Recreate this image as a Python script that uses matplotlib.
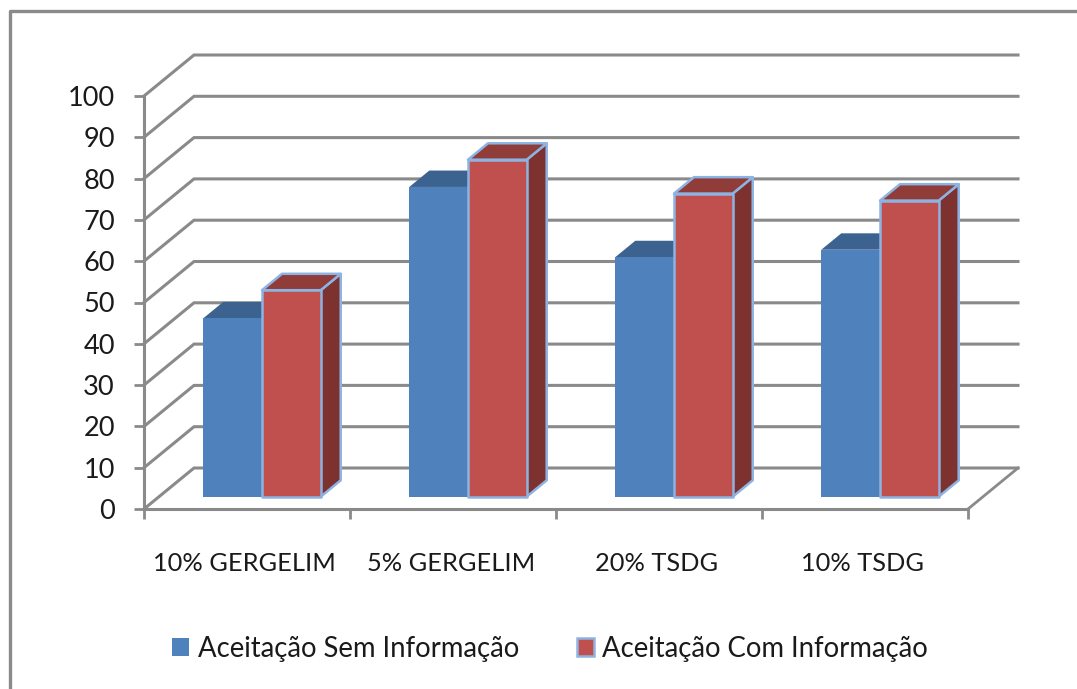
# Grouped pseudo-3D column chart, acceptance with/without information
import matplotlib
matplotlib.use('Agg')
import matplotlib.pyplot as plt
from matplotlib.patches import Polygon, Rectangle
from matplotlib.lines import Line2D

plt.rcParams['font.family'] = ['Lato', 'DejaVu Sans']

# data
categories = ['10% GERGELIM', '5% GERGELIM', '20% TSDG', '10% TSDG']
sem_info = [43.2, 75.0, 58.0, 59.8]
com_info = [50.0, 81.6, 73.4, 71.7]
series_names = ['Aceitação Sem Informação', 'Aceitação Com Informação']
y_ticks = list(range(0, 101, 10))

# colours
grid_col = '#8a8a8a'
blue = ['#4f81bd', '#3c6290', '#3c6290']
red = ['#c0504d', '#7d3230', '#903c39']
edge_col = '#8db3e2'
text_col = '#1a1a1a'

W, H = 1077, 689
fig = plt.figure(figsize=(W / 100, H / 100), dpi=100)
fig.patch.set_facecolor('white')

# axes box = front plane of the chart in pixels
left, right, top, bottom = 144, 968, 96, 509
ax = fig.add_axes([left / W, 1 - bottom / H, (right - left) / W, (bottom - top) / H])
ax.set_xlim(0, 4)
ax.set_ylim(0, 100)
ax.patch.set_alpha(0)

# depth of the walls in data units
depth_x = 50 / 206
depth_y = 41 / 4.13

def proj(x, y, d):
    # d=0 is the front plane, d=1 the back wall
    return (x + d * depth_x, y + d * depth_y)

# back wall gridlines, side wall and floor
for v in y_ticks:
    xs, ys = zip(proj(0, v, 0), proj(0, v, 1), proj(4, v, 1))
    ax.plot(xs, ys, color=grid_col, lw=2.2, clip_on=False, zorder=1, solid_joinstyle='miter')
xs, ys = zip(proj(4, 0, 0), proj(4, 0, 1))
ax.plot(xs, ys, color=grid_col, lw=2.0, clip_on=False, zorder=1)

# bars
bar_w = 0.285
d0, d1 = 0.30, 0.70

def bar3d(x0, val, cols, edge, z):
    x1 = x0 + bar_w
    front = [proj(x0, 0, d0), proj(x1, 0, d0), proj(x1, val, d0), proj(x0, val, d0)]
    topf = [proj(x0, val, d0), proj(x1, val, d0), proj(x1, val, d1), proj(x0, val, d1)]
    side = [proj(x1, 0, d0), proj(x1, 0, d1), proj(x1, val, d1), proj(x1, val, d0)]
    for pts, c in ((side, cols[1]), (topf, cols[2]), (front, cols[0])):
        ax.add_patch(Polygon(pts, closed=True, facecolor=c, edgecolor=edge, lw=1.8,
                             clip_on=False, zorder=z, joinstyle='round'))

for i in range(len(categories)):
    c = i + 0.5
    bar3d(c - bar_w, sem_info[i], blue, 'none', 3 + i)
    bar3d(c, com_info[i], red, edge_col, 3.5 + i)

# axes styling
for s in ('top', 'right'):
    ax.spines[s].set_visible(False)
for s in ('left', 'bottom'):
    ax.spines[s].set_color(grid_col)
    ax.spines[s].set_linewidth(2.2)
ax.set_yticks(y_ticks)
ax.set_xticks(range(5))
ax.set_xticklabels([])
ax.tick_params(axis='both', color=grid_col, width=2.0, length=7)
ax.tick_params(axis='y', labelsize=19.5, pad=14, labelcolor=text_col)

# category labels
for i, name in enumerate(categories):
    ax.annotate(name, xy=(i + 0.5, 0), xycoords=('data', 'axes fraction'), xytext=(-1.5, -39),
                textcoords='offset points', ha='center', va='center', fontsize=18.3, color=text_col)

# legend
handles = [Rectangle((0, 0), 1, 1, facecolor=blue[0], edgecolor='none'),
           Rectangle((0, 0), 1, 1, facecolor=red[0], edgecolor=edge_col, lw=1.8)]
fig.legend(handles, series_names, loc='center', bbox_to_anchor=(550 / W, 1 - 649 / H), ncol=2,
           frameon=False, fontsize=19.8, handlelength=0.62, handleheight=0.62, handletextpad=0.3,
           columnspacing=2.1, labelcolor=text_col)

# outer chart frame, left and top sides only
fig.add_artist(Line2D([10 / W, 10 / W, 1], [0, 1 - 11 / H, 1 - 11 / H], color=grid_col, lw=2.4))

fig.savefig('out.png', dpi=100)
